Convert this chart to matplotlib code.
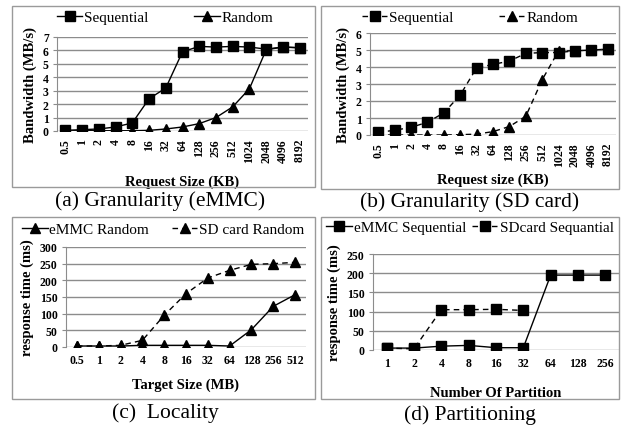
import matplotlib.pyplot as plt
import matplotlib.patches as mpatches
import numpy as np

plt.rcParams['font.family'] = ['Liberation Serif', 'DejaVu Serif']

W, H = 622, 427

# (a) eMMC granularity
req_sizes = ['0.5', '1', '2', '4', '8', '16', '32', '64', '128', '256', '512',
             '1024', '2048', '4096', '8192']
emmc_seq_bw = [0.05, 0.1, 0.15, 0.3, 0.6, 2.4, 3.2, 5.9, 6.3, 6.25, 6.3, 6.25, 6.1, 6.25, 6.2]
emmc_rnd_bw = [0.0, 0.02, 0.02, 0.02, 0.02, 0.05, 0.15, 0.3, 0.55, 1.0, 1.8, 3.15, 6.05, 6.25, 6.2]

# (b) SD card granularity
sd_seq_bw = [0.15, 0.28, 0.45, 0.75, 1.3, 2.35, 3.95, 4.15, 4.35, 4.8, 4.85, 4.85, 4.95, 5.0, 5.05]
sd_rnd_bw = [0.0, 0.0, 0.0, 0.0, 0.0, 0.02, 0.05, 0.2, 0.5, 1.1, 3.25, 4.95, 4.95, 5.0, 5.05]

# (c) locality
target_sizes = ['0.5', '1', '2', '4', '8', '16', '32', '64', '128', '256', '512']
emmc_rnd_rt = [3, 3, 3, 5, 5, 5, 5, 3, 52, 122, 157]
sd_rnd_rt = [3, 3, 5, 20, 95, 160, 207, 230, 248, 250, 254]

# (d) partitioning
partitions = ['1', '2', '4', '8', '16', '32', '64', '128', '256']
emmc_seq_rt = [5, 5, 10, 12, 6, 6, 195, 195, 195]
sd_seq_rt = [5, 3, 105, 105, 106, 103, np.nan, np.nan, np.nan]


def rect(l, r, t, b):
    return [l / W, 1 - b / H, (r - l) / W, (b - t) / H]


fig = plt.figure(figsize=(6.22, 4.27), dpi=100)

# panel frames
for l, r, t, b in [(12, 315, 7, 188), (321, 619, 7, 190),
                   (12, 315, 218, 400), (321, 619, 218, 400)]:
    fig.patches.append(mpatches.Rectangle((l / W, 1 - b / H), (r - l) / W, (b - t) / H,
                                          transform=fig.transFigure, fill=False,
                                          edgecolor='#9a9a9a', linewidth=1.0))


def style_axes(ax, cats, ymax, ystep, xlabel, ylabel, rot, xpad):
    ax.set_xlim(-0.5, len(cats) - 0.5)
    ax.set_ylim(0, ymax)
    ax.set_yticks(np.arange(0, ymax + 1e-9, ystep))
    ax.grid(axis='y', color='#8c8c8c', linewidth=1.0)
    ax.set_axisbelow(True)
    for s in ['top', 'right', 'bottom']:
        ax.spines[s].set_visible(False)
    ax.spines['left'].set_color('#8c8c8c')
    ax.tick_params(axis='x', length=0, labelsize=8.5, pad=5, labelrotation=rot)
    ax.tick_params(axis='y', length=3, color='#8c8c8c', labelsize=8.5, pad=3)
    for lab in ax.get_xticklabels() + ax.get_yticklabels():
        lab.set_fontweight('bold')
    ax.set_xlabel(xlabel, fontsize=10.5, fontweight='bold', labelpad=xpad)
    ax.set_ylabel(ylabel, fontsize=10.5, fontweight='bold', labelpad=4)


mk = dict(color='black', linewidth=1.0, markersize=7)
dash = (0, (4, 3))
leg = dict(bbox_transform=fig.transFigure, ncol=2, frameon=False, fontsize=11,
           handlelength=1.7, handletextpad=0.1, loc='center')

# (a)
ax1 = fig.add_axes(rect(57, 308, 38, 132))
l1, = ax1.plot(req_sizes, emmc_seq_bw, marker='s', **mk)
l2, = ax1.plot(req_sizes, emmc_rnd_bw, marker='^', **mk)
style_axes(ax1, req_sizes, 7, 1, 'Request Size (KB)', 'Bandwidth (MB/s)', 90, 9)
ax1.legend([l1, l2], ['Sequential', 'Random'], bbox_to_anchor=(165 / W, 1 - 18 / H),
           columnspacing=3.0, **leg)

# (b)
ax2 = fig.add_axes(rect(370, 616, 34, 136))
l3, = ax2.plot(req_sizes, sd_seq_bw, marker='s', linestyle=dash, **mk)
l4, = ax2.plot(req_sizes, sd_rnd_bw, marker='^', linestyle=dash, **mk)
style_axes(ax2, req_sizes, 6, 1, 'Request size (KB)', 'Bandwidth (MB/s)', 90, 5)
ax2.legend([l3, l4], ['Sequential', 'Random'], bbox_to_anchor=(470 / W, 1 - 18 / H),
           columnspacing=3.0, **leg)

# (c)
ax3 = fig.add_axes(rect(66, 306, 248, 348))
l5, = ax3.plot(target_sizes, emmc_rnd_rt, marker='^', **mk)
l6, = ax3.plot(target_sizes, sd_rnd_rt, marker='^', linestyle=dash, **mk)
style_axes(ax3, target_sizes, 300, 50, 'Target Size (MB)', 'response time (ms)', 0, 8)
ax3.legend([l5, l6], ['eMMC Random', 'SD card Random'], bbox_to_anchor=(163 / W, 1 - 230 / H),
           columnspacing=1.5, **leg)

# (d)
ax4 = fig.add_axes(rect(373, 619, 255, 351))
l7, = ax4.plot(partitions, emmc_seq_rt, marker='s', **mk)
l8, = ax4.plot(partitions, sd_seq_rt, marker='s', linestyle=dash, **mk)
style_axes(ax4, partitions, 250, 50, 'Number Of Partition', 'response time (ms)', 0, 12)
ax4.legend([l7, l8], ['eMMC Sequential', 'SDcard Sequantial'], bbox_to_anchor=(470 / W, 1 - 228 / H),
           columnspacing=0.4, **leg)

# captions
fig.text(160 / W, 1 - 201 / H, '(a) Granularity (eMMC)', ha='center', va='center', fontsize=15.5)
fig.text(470 / W, 1 - 202 / H, '(b) Granularity (SD card)', ha='center', va='center', fontsize=15.5)
fig.text(165 / W, 1 - 413 / H, '(c)  Locality', ha='center', va='center', fontsize=15.5)
fig.text(470 / W, 1 - 415 / H, '(d) Partitioning', ha='center', va='center', fontsize=15.5)

fig.savefig('out.png', dpi=100)
